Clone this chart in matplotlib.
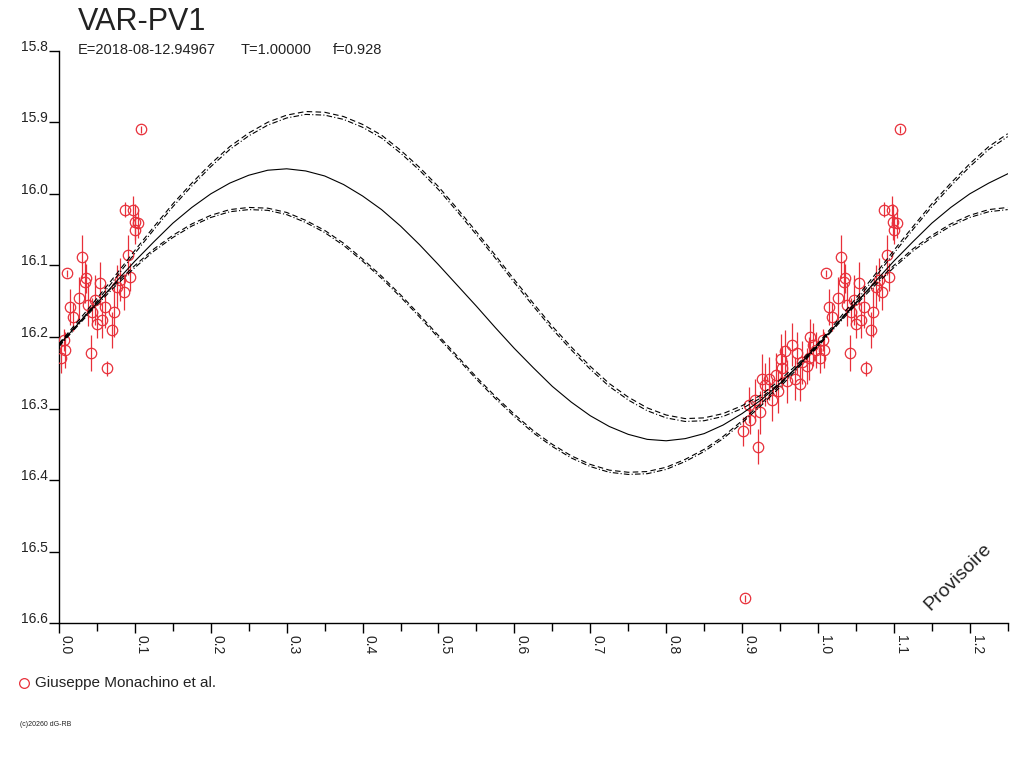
import numpy as np
import matplotlib
matplotlib.use("Agg")
import matplotlib.pyplot as plt

plt.rcParams['font.family'] = ['Liberation Sans', 'DejaVu Sans']

# =============================================================
# DATA
# =============================================================
star = "VAR-PV1"
info = ["E=2018-08-12.94967", "T=1.00000", "f=0.928"]
observer = "Giuseppe Monachino et al."

# observations: phase, magnitude, error
obs_phase = [0.0026, 0.007, 0.008, 0.011, 0.0145, 0.018, 0.026, 0.030, 0.034, 0.035,
             0.0387, 0.042, 0.044, 0.0476, 0.050, 0.054, 0.0564, 0.061, 0.063, 0.0696,
             0.072, 0.076, 0.081, 0.085, 0.0872, 0.0907, 0.094, 0.097, 0.0995, 0.1005,
             0.1035, 0.108,
             0.9018, 0.9036, 0.909, 0.910, 0.917, 0.9207, 0.924, 0.926, 0.930, 0.935,
             0.939, 0.945, 0.948, 0.9516, 0.952, 0.957, 0.959, 0.966, 0.970, 0.972,
             0.9766, 0.979, 0.9855, 0.988, 0.990, 0.994, 0.997]
obs_mag = [16.230, 16.204, 16.218, 16.111, 16.158, 16.172, 16.146, 16.088, 16.123, 16.118,
           16.155, 16.222, 16.165, 16.148, 16.182, 16.125, 16.176, 16.158, 16.244, 16.190,
           16.165, 16.130, 16.120, 16.137, 16.022, 16.085, 16.116, 16.023, 16.039, 16.050,
           16.041, 15.910,
           16.332, 16.565, 16.295, 16.316, 16.288, 16.353, 16.305, 16.259, 16.267, 16.258,
           16.288, 16.253, 16.276, 16.231, 16.243, 16.220, 16.262, 16.211, 16.258, 16.223,
           16.265, 16.235, 16.241, 16.230, 16.200, 16.211, 16.218]
obs_err = [0.020, 0.015, 0.025, 0.005, 0.025, 0.020, 0.030, 0.030, 0.030, 0.020,
           0.030, 0.025, 0.020, 0.035, 0.020, 0.030, 0.025, 0.030, 0.010, 0.025,
           0.035, 0.030, 0.030, 0.025, 0.010, 0.028, 0.020, 0.020, 0.025, 0.020,
           0.020, 0.005,
           0.020, 0.005, 0.025, 0.020, 0.030, 0.025, 0.030, 0.035, 0.030, 0.030,
           0.030, 0.030, 0.030, 0.035, 0.030, 0.030, 0.030, 0.030, 0.030, 0.030,
           0.025, 0.030, 0.025, 0.030, 0.025, 0.030, 0.025]

# fitted light curve and its envelopes, read at steps of 0.025 in phase
curve_phase = [0.000, 0.025, 0.050, 0.075, 0.100, 0.125, 0.150, 0.175, 0.200, 0.225,
               0.250, 0.275, 0.300, 0.325, 0.350, 0.375, 0.400, 0.425, 0.450, 0.475,
               0.500, 0.525, 0.550, 0.575, 0.600, 0.625, 0.650, 0.675, 0.700, 0.725,
               0.750, 0.775, 0.800, 0.825, 0.850, 0.875, 0.900, 0.925, 0.950, 0.975,
               1.000, 1.025, 1.050, 1.075, 1.100, 1.125, 1.150, 1.175, 1.200, 1.225,
               1.250]
fit_mean = [16.211, 16.182, 16.153, 16.123, 16.094, 16.067, 16.041, 16.019, 16.000, 15.985,
            15.974, 15.967, 15.965, 15.968, 15.975, 15.987, 16.003, 16.022, 16.045, 16.071,
            16.099, 16.128, 16.157, 16.187, 16.216, 16.243, 16.269, 16.291, 16.310, 16.325,
            16.336, 16.343, 16.345, 16.342, 16.335, 16.323, 16.307, 16.288, 16.265, 16.239,
            16.211, 16.182, 16.153, 16.123, 16.094, 16.067, 16.041, 16.019, 16.000, 15.985,
            15.972]
upper_dash = [16.209, 16.178, 16.146, 16.113, 16.079, 16.046, 16.014, 15.985, 15.958, 15.934,
              15.915, 15.900, 15.890, 15.885, 15.886, 15.892, 15.903, 15.918, 15.939, 15.963,
              15.990, 16.021, 16.053, 16.086, 16.120, 16.153, 16.185, 16.214, 16.241, 16.265,
              16.284, 16.299, 16.309, 16.314, 16.313, 16.307, 16.296, 16.281, 16.260, 16.236,
              16.209, 16.178, 16.146, 16.113, 16.079, 16.046, 16.014, 15.985, 15.958, 15.934,
              15.916]
upper_dashdot = [16.213, 16.182, 16.150, 16.117, 16.083, 16.050, 16.018, 15.989, 15.962, 15.938,
                 15.919, 15.904, 15.894, 15.889, 15.890, 15.896, 15.907, 15.922, 15.943, 15.967,
                 15.994, 16.025, 16.057, 16.090, 16.124, 16.157, 16.189, 16.218, 16.245, 16.269,
                 16.288, 16.303, 16.313, 16.318, 16.317, 16.311, 16.300, 16.285, 16.264, 16.240,
                 16.213, 16.182, 16.150, 16.117, 16.083, 16.050, 16.018, 15.989, 15.962, 15.938,
                 15.920]
lower_dash = [16.210, 16.181, 16.152, 16.125, 16.100, 16.077, 16.058, 16.042, 16.030, 16.022,
              16.019, 16.020, 16.026, 16.037, 16.051, 16.069, 16.091, 16.115, 16.141, 16.169,
              16.198, 16.227, 16.256, 16.283, 16.308, 16.331, 16.350, 16.366, 16.378, 16.386,
              16.389, 16.388, 16.382, 16.371, 16.357, 16.339, 16.317, 16.293, 16.267, 16.239,
              16.210, 16.181, 16.152, 16.125, 16.100, 16.077, 16.058, 16.042, 16.030, 16.022,
              16.019]
lower_dashdot = [16.213, 16.184, 16.155, 16.128, 16.103, 16.080, 16.061, 16.045, 16.033, 16.025,
                 16.022, 16.023, 16.029, 16.040, 16.054, 16.072, 16.094, 16.118, 16.144, 16.172,
                 16.201, 16.230, 16.259, 16.286, 16.311, 16.334, 16.353, 16.369, 16.381, 16.389,
                 16.392, 16.391, 16.385, 16.374, 16.360, 16.342, 16.320, 16.296, 16.270, 16.242,
                 16.213, 16.184, 16.155, 16.128, 16.103, 16.080, 16.061, 16.045, 16.033, 16.025,
                 16.022]

x_ticks = [0.0, 0.1, 0.2, 0.3, 0.4, 0.5, 0.6, 0.7, 0.8, 0.9, 1.0, 1.1, 1.2]
x_minor = [0.05, 0.15, 0.25, 0.35, 0.45, 0.55, 0.65, 0.75, 0.85, 0.95, 1.05, 1.15, 1.25]
y_ticks = [15.8, 15.9, 16.0, 16.1, 16.2, 16.3, 16.4, 16.5, 16.6]

# =============================================================
# FIGURE
# =============================================================
W, H = 1024, 768
fig = plt.figure(figsize=(W / 100, H / 100), dpi=100)
ax = fig.add_axes([59 / W, 1 - 623.3 / H, (1007.7 - 59) / W, (623.3 - 50.7) / H])

red = "#e8303a"

# phase folded twice so data repeats over 0..1.25
ph = np.array(obs_phase)
mag = np.array(obs_mag)
err = np.array(obs_err)
ph_all = np.concatenate([ph, ph + 1])
mag_all = np.concatenate([mag, mag])
err_all = np.concatenate([err, err])
keep = (ph_all >= 0) & (ph_all <= 1.25)

ax.errorbar(ph_all[keep], mag_all[keep], yerr=err_all[keep], fmt="none",
            ecolor=red, elinewidth=0.9, capsize=0, zorder=2)
ax.plot(ph_all[keep], mag_all[keep], "o", mfc="none", mec=red, ms=7.5, mew=0.9, zorder=3)

ax.plot(curve_phase, fit_mean, "-", color="black", lw=0.8, zorder=4)
ax.plot(curve_phase, upper_dash, color="black", lw=0.8, ls=(0, (5, 3)), zorder=4)
ax.plot(curve_phase, upper_dashdot, color="black", lw=0.8, ls=(0, (5, 2, 1, 2)), zorder=4)
ax.plot(curve_phase, lower_dash, color="black", lw=0.8, ls=(0, (5, 3)), zorder=4)
ax.plot(curve_phase, lower_dashdot, color="black", lw=0.8, ls=(0, (5, 2, 1, 2)), zorder=4)

ax.set_xlim(0, 1.25)
ax.set_ylim(16.6, 15.8)

for s in ["top", "right"]:
    ax.spines[s].set_visible(False)
for s in ["left", "bottom"]:
    ax.spines[s].set_linewidth(1)

ax.set_yticks(y_ticks)
ax.set_yticklabels(["%.1f" % v for v in y_ticks])
ax.tick_params(axis="y", direction="out", length=7.2, width=1, pad=1, labelsize=10,
               colors="black", labelcolor="#222222")
for lab in ax.get_yticklabels():
    lab.set_verticalalignment("baseline")

ax.set_xticks(x_ticks)
ax.set_xticks(x_minor, minor=True)
ax.set_xticklabels(["%.1f" % v for v in x_ticks], rotation=-90, ha="left")
ax.tick_params(axis="x", which="major", direction="out", length=7.2, width=1, pad=1,
               labelsize=10, labelcolor="#222222")
ax.tick_params(axis="x", which="minor", direction="out", length=5.8, width=1)

# =============================================================
# TEXTS
# =============================================================
fig.text(78 / W, 1 - 29.5 / H, star, fontsize=22, color="#222222", va="baseline")
fig.text(78 / W, 1 - 54 / H, info[0], fontsize=10.5, color="#222222", va="baseline")
fig.text(241 / W, 1 - 54 / H, info[1], fontsize=10.5, color="#222222", va="baseline")
fig.text(333 / W, 1 - 54 / H, info[2], fontsize=10.5, color="#222222", va="baseline")

fig.text(958 / W, 1 - 577 / H, "Provisoire", fontsize=14, rotation=45,
         ha="center", va="center", color="#222222")

fig.lines.append(plt.Line2D([24 / W], [1 - 683 / H], marker="o", mfc="none", mec=red,
                            ms=7, mew=0.9, transform=fig.transFigure))
fig.text(35 / W, 1 - 683 / H, observer, fontsize=11, color="#222222", va="center")
fig.text(20 / W, 1 - 725 / H, "(c)20260 dG-RB", fontsize=5, color="#222222", va="center")

fig.savefig("out.png", dpi=100)
